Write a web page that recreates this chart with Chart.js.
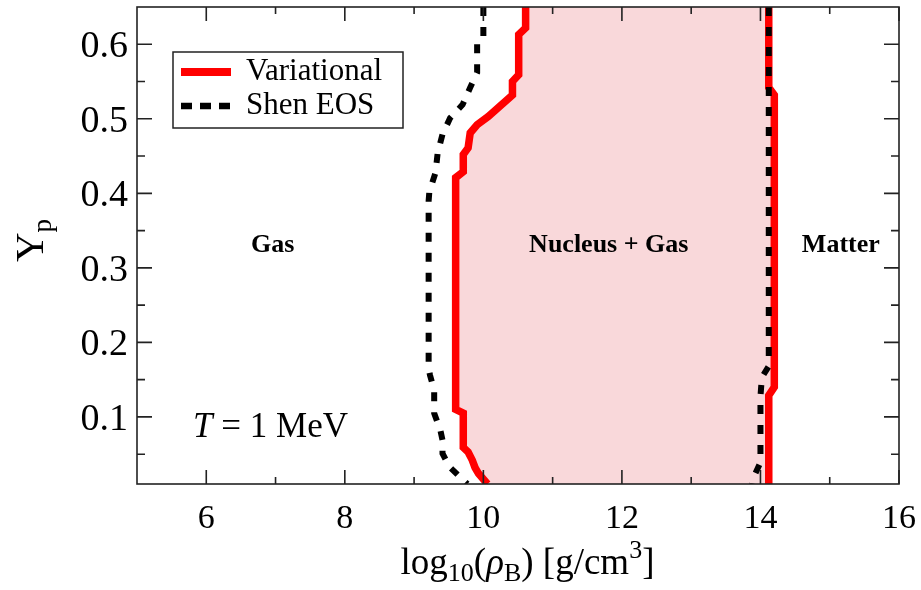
<!DOCTYPE html>
<html><head><meta charset="utf-8">
<script src="https://cdn.jsdelivr.net/npm/chart.js@4/dist/chart.umd.min.js"></script>
<style>html,body{margin:0;padding:0;background:#fff}</style>
</head><body>
<canvas id="c" width="921" height="590"></canvas>
<script>
// ---- data ----
const X_TICKS = [6, 8, 10, 12, 14, 16];
const X_MINOR = [7, 9, 11, 13, 15];
const Y_TICKS = [0.1, 0.2, 0.3, 0.4, 0.5, 0.6];
const Y_MINOR = [0.05, 0.15, 0.25, 0.35, 0.45, 0.55];

const VAR_LEFT_X = [10.61,10.61,10.51,10.51,10.42,10.42,10.07,9.91,9.81,9.78,9.71,9.71,9.60,9.60,9.71,9.71,9.78,9.84,9.88,9.93,10.06];
const VAR_LEFT_Y = [0.65,0.622,0.613,0.559,0.55,0.532,0.503,0.492,0.481,0.461,0.452,0.429,0.421,0.110,0.105,0.059,0.053,0.042,0.032,0.024,0.01];
const VAR_RIGHT_X = [14.12,14.12,14.20,14.20,14.12,14.12];
const VAR_RIGHT_Y = [0.65,0.542,0.532,0.140,0.129,0.01];

const SHEN_LEFT_X = [10.0,10.0,9.91,9.91,9.81,9.70,9.52,9.41,9.34,9.31,9.22,9.21,9.21,9.23,9.29,9.29,9.38,9.41,9.41,9.51,9.70,9.77];
const SHEN_LEFT_Y = [0.65,0.61,0.602,0.562,0.542,0.519,0.501,0.479,0.454,0.428,0.402,0.39,0.165,0.156,0.136,0.105,0.082,0.069,0.051,0.033,0.016,0.01];
const SHEN_RIGHT_X = [14.12,14.12,14.02,14.0,14.0,13.9,13.88];
const SHEN_RIGHT_Y = [0.65,0.168,0.153,0.127,0.039,0.019,0.01];

const SERIES = ['Variational', 'Shen EOS'];
const REGION_LABELS = ['Gas', 'Nucleus + Gas', 'Matter'];

// ---- build ----
const pts = (xs, ys) => xs.map((v, i) => ({x: v, y: ys[i]}));
const regionPts = pts(VAR_LEFT_X, VAR_LEFT_Y).concat(pts(VAR_RIGHT_X, VAR_RIGHT_Y).reverse());

const RED = '#ff0000';
const FAM = 'Liberation Serif';
const FONT = "'Liberation Serif', serif";
const redStyle = {borderColor: RED, borderWidth: 7.5, pointRadius: 0, fill: false, tension: 0, clip: 0, order: 1, borderJoinStyle: 'miter'};
const blackStyle = {borderColor: '#000', borderWidth: 6, borderDash: [9, 11], pointRadius: 0, fill: false, tension: 0, clip: 0, order: 0};

function drawRuns(ctx, runs, x, y) {
  let cx = x;
  runs.forEach(r => {
    ctx.font = (r.style || '') + ' ' + r.size + 'px ' + FONT;
    ctx.fillText(r.t, cx, y + (r.dy || 0));
    cx += ctx.measureText(r.t).width;
  });
  return cx - x;
}
function runsWidth(ctx, runs) {
  let w = 0;
  runs.forEach(r => { ctx.font = (r.style || '') + ' ' + r.size + 'px ' + FONT; w += ctx.measureText(r.t).width; });
  return w;
}

const decor = {
  id: 'decor',
  afterDatasetsDraw(chart) {
    const {ctx, chartArea: a, scales: {x, y}} = chart;
    ctx.save();
    ctx.strokeStyle = '#222'; ctx.lineWidth = 1.6;
    ctx.strokeRect(a.left, a.top, a.right - a.left, a.bottom - a.top);
    ctx.beginPath();
    const xt = (v, len) => { const p = x.getPixelForValue(v); ctx.moveTo(p, a.bottom); ctx.lineTo(p, a.bottom - len); ctx.moveTo(p, a.top); ctx.lineTo(p, a.top + len); };
    const yt = (v, len) => { const p = y.getPixelForValue(v); ctx.moveTo(a.left, p); ctx.lineTo(a.left + len, p); ctx.moveTo(a.right, p); ctx.lineTo(a.right - len, p); };
    X_TICKS.forEach(v => xt(v, 14)); X_MINOR.forEach(v => xt(v, 7));
    Y_TICKS.forEach(v => yt(v, 15)); Y_MINOR.forEach(v => yt(v, 8));
    ctx.stroke();

    // tick labels
    ctx.fillStyle = '#000';
    ctx.textAlign = 'center'; ctx.textBaseline = 'alphabetic';
    ctx.font = '34px ' + FONT;
    X_TICKS.forEach(v => ctx.fillText(String(v), x.getPixelForValue(v), a.bottom + 44));
    ctx.textAlign = 'right';
    ctx.font = '38px ' + FONT;
    Y_TICKS.forEach(v => ctx.fillText(v.toFixed(1), a.left - 9, y.getPixelForValue(v) + 13));

    // region labels
    ctx.textAlign = 'center';
    ctx.font = 'bold 26px ' + FONT;
    const by = y.getPixelForValue(0.321);
    ctx.fillText(REGION_LABELS[0], x.getPixelForValue(6.96), by);
    ctx.fillText(REGION_LABELS[1], x.getPixelForValue(11.81), by);
    ctx.fillText(REGION_LABELS[2], x.getPixelForValue(15.16), by);

    ctx.textAlign = 'left';
    drawRuns(ctx, [{t: 'T', size: 35, style: 'italic'}, {t: ' = 1 MeV', size: 35}],
      x.getPixelForValue(5.81), y.getPixelForValue(0.0727));

    // legend
    const lx = a.left + 36, ly = a.top + 45;
    ctx.fillStyle = '#fff';
    ctx.fillRect(lx, ly, 230, 76);
    ctx.strokeStyle = '#222'; ctx.lineWidth = 1.5;
    ctx.strokeRect(lx, ly, 230, 76);
    const ds = chart.data.datasets;
    ctx.beginPath(); ctx.strokeStyle = ds[1].borderColor; ctx.lineWidth = 8;
    ctx.moveTo(lx + 8, ly + 20); ctx.lineTo(lx + 58, ly + 20); ctx.stroke();
    ctx.beginPath(); ctx.strokeStyle = ds[3].borderColor; ctx.lineWidth = 6.5; ctx.setLineDash([11, 8]);
    ctx.moveTo(lx + 8, ly + 54); ctx.lineTo(lx + 58, ly + 54); ctx.stroke();
    ctx.setLineDash([]);
    ctx.fillStyle = '#000'; ctx.font = '31px ' + FONT;
    ctx.fillText(SERIES[0], lx + 73, ly + 28);
    ctx.fillText(SERIES[1], lx + 73, ly + 62);

    // x title
    const xr = [
      {t: 'log', size: 37}, {t: '10', size: 26, dy: 7}, {t: '(', size: 37},
      {t: 'ρ', size: 37, style: 'italic'}, {t: 'B', size: 26, dy: 7}, {t: ') [g/cm', size: 37},
      {t: '3', size: 26, dy: -16}, {t: ']', size: 37}
    ];
    const w = runsWidth(ctx, xr);
    drawRuns(ctx, xr, 527.5 - w / 2, 574);

    // y title
    ctx.translate(43, 262);
    ctx.rotate(-Math.PI / 2);
    drawRuns(ctx, [{t: 'Y', size: 41}, {t: 'p', size: 27, dy: 8}], 0, 0);
    ctx.restore();
  }
};

new Chart(document.getElementById('c'), {
  type: 'line',
  data: {
    datasets: [
      {label: 'region', data: regionPts, borderWidth: 0, borderColor: 'rgba(0,0,0,0)', backgroundColor: 'rgb(249,216,218)', fill: 'shape', pointRadius: 0, tension: 0, clip: 0, order: 10},
      Object.assign({label: SERIES[0], data: pts(VAR_LEFT_X, VAR_LEFT_Y)}, redStyle),
      Object.assign({label: SERIES[0] + ' r', data: pts(VAR_RIGHT_X, VAR_RIGHT_Y)}, redStyle),
      Object.assign({label: SERIES[1], data: pts(SHEN_LEFT_X, SHEN_LEFT_Y)}, blackStyle),
      Object.assign({label: SERIES[1] + ' r', data: pts(SHEN_RIGHT_X, SHEN_RIGHT_Y)}, blackStyle)
    ]
  },
  options: {
    responsive: false,
    animation: false,
    events: [],
    layout: {padding: {top: 7, right: 22, left: 0, bottom: 0}},
    plugins: {legend: {display: false}, tooltip: {enabled: false}},
    scales: {
      x: {
        type: 'linear', min: 5, max: 16,
        grid: {display: false, drawTicks: false},
        border: {display: false},
        ticks: {display: false, font: {family: FAM, size: 34}},
        afterBuildTicks: s => { s.ticks = X_TICKS.map(v => ({value: v})); },
        afterFit: s => { s.height = 106; s.paddingLeft = 0; s.paddingRight = 0; }
      },
      y: {
        type: 'linear', min: 0.01, max: 0.65,
        grid: {display: false, drawTicks: false},
        border: {display: false},
        ticks: {display: false, font: {family: FAM, size: 38}},
        afterBuildTicks: s => { s.ticks = Y_TICKS.map(v => ({value: v})); },
        afterFit: s => { s.width = 137; s.paddingTop = 0; s.paddingBottom = 0; }
      }
    }
  },
  plugins: [decor]
});
</script>
</body></html>
